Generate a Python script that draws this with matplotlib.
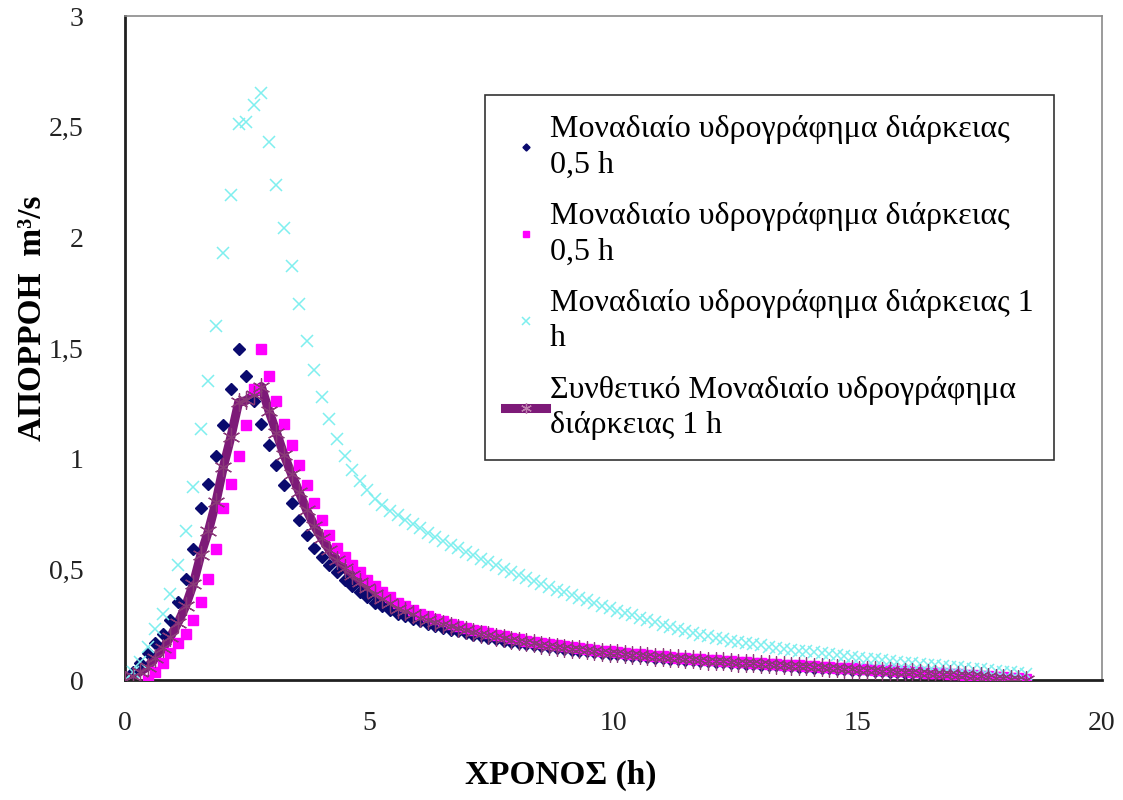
import numpy as np
import matplotlib
matplotlib.use("Agg")
import matplotlib.pyplot as plt

plt.rcParams["font.family"] = ["Liberation Serif", "DejaVu Serif"]

# time step of the hydrograph ordinates (h) and lag of the second 0.5 h curve
dt_h = 0.155
lag_steps = 3

# 0.5 h unit hydrograph ordinates (m3/s), one per time step
q_05 = [0.0, 0.035, 0.075, 0.12, 0.165, 0.21, 0.27, 0.352, 0.456, 0.593,
        0.775, 0.886, 1.01, 1.152, 1.313, 1.497, 1.373, 1.262, 1.155, 1.061,
        0.973, 0.881, 0.798, 0.725, 0.653, 0.596, 0.555, 0.52, 0.487, 0.453,
        0.426, 0.398, 0.376, 0.347, 0.333, 0.315, 0.298, 0.287, 0.276, 0.265,
        0.255, 0.246, 0.237, 0.228, 0.22, 0.212, 0.205, 0.198, 0.191, 0.184,
        0.178, 0.172, 0.167, 0.162, 0.157, 0.152, 0.148, 0.144, 0.14, 0.136,
        0.133, 0.129, 0.126, 0.122, 0.119, 0.116, 0.113, 0.11, 0.107, 0.104,
        0.101, 0.099, 0.096, 0.094, 0.091, 0.089, 0.087, 0.085, 0.082, 0.08,
        0.078, 0.076, 0.074, 0.072, 0.07, 0.068, 0.066, 0.064, 0.062, 0.06,
        0.058, 0.056, 0.054, 0.052, 0.05, 0.048, 0.046, 0.044, 0.043, 0.041,
        0.039, 0.037, 0.035, 0.033, 0.032, 0.03, 0.028, 0.026, 0.024, 0.022,
        0.02, 0.018, 0.015, 0.013, 0.01, 0.008, 0.005]

# 1 h unit hydrograph ordinates (m3/s)
q_1h = [0.0, 0.036, 0.08, 0.15, 0.23, 0.3, 0.39, 0.52, 0.672, 0.87,
        1.135, 1.35, 1.6, 1.93, 2.19, 2.51, 2.52, 2.6, 2.65, 2.43,
        2.235, 2.04, 1.87, 1.7, 1.53, 1.4, 1.28, 1.18, 1.09, 1.01,
        0.95, 0.9, 0.86, 0.82, 0.79, 0.765, 0.745, 0.725, 0.705, 0.685,
        0.665, 0.647, 0.629, 0.612, 0.596, 0.58, 0.564, 0.548, 0.533, 0.518,
        0.503, 0.488, 0.474, 0.46, 0.447, 0.434, 0.421, 0.408, 0.396, 0.384,
        0.372, 0.36, 0.348, 0.336, 0.325, 0.314, 0.303, 0.292, 0.281, 0.27,
        0.26, 0.25, 0.24, 0.231, 0.222, 0.213, 0.205, 0.197, 0.19, 0.183,
        0.176, 0.171, 0.166, 0.161, 0.156, 0.151, 0.146, 0.141, 0.137, 0.133,
        0.129, 0.125, 0.121, 0.117, 0.113, 0.109, 0.105, 0.101, 0.097, 0.093,
        0.089, 0.086, 0.083, 0.079, 0.076, 0.073, 0.069, 0.066, 0.063, 0.06,
        0.057, 0.054, 0.051, 0.048, 0.045, 0.042, 0.038, 0.034, 0.03, 0.026]

# synthetic 1 h unit hydrograph ordinates (m3/s)
q_synth = [0.0, 0.018, 0.038, 0.06, 0.1, 0.143, 0.195, 0.259, 0.333, 0.432,
           0.564, 0.671, 0.802, 0.964, 1.1, 1.254, 1.263, 1.288, 1.326, 1.217,
           1.118, 1.018, 0.93, 0.849, 0.767, 0.697, 0.64, 0.587, 0.542, 0.504,
           0.473, 0.443, 0.415, 0.387, 0.366, 0.346, 0.323, 0.31, 0.296, 0.282,
           0.271, 0.261, 0.251, 0.242, 0.233, 0.225, 0.217, 0.209, 0.202, 0.195,
           0.188, 0.182, 0.176, 0.17, 0.165, 0.16, 0.155, 0.151, 0.146, 0.142,
           0.139, 0.135, 0.131, 0.128, 0.124, 0.121, 0.118, 0.115, 0.112, 0.109,
           0.106, 0.103, 0.1, 0.098, 0.095, 0.093, 0.091, 0.088, 0.086, 0.084,
           0.082, 0.079, 0.077, 0.075, 0.073, 0.071, 0.069, 0.067, 0.065, 0.063,
           0.061, 0.059, 0.057, 0.055, 0.053, 0.051, 0.049, 0.047, 0.045, 0.043,
           0.041, 0.04, 0.038, 0.036, 0.034, 0.032, 0.03, 0.029, 0.027, 0.025,
           0.023, 0.021, 0.018, 0.016, 0.014, 0.011, 0.009, 0.005, 0.004, 0.002]

labels = ["Μοναδιαίο υδρογράφημα διάρκειας\n0,5 h",
          "Μοναδιαίο υδρογράφημα διάρκειας\n0,5 h",
          "Μοναδιαίο υδρογράφημα διάρκειας 1\nh",
          "Συνθετικό Μοναδιαίο υδρογράφημα\nδιάρκειας 1 h"]

x_ticks = [0, 5, 10, 15, 20]
y_ticks = [0, 0.5, 1, 1.5, 2, 2.5, 3]
y_tick_labels = ["0", "0,5", "1", "1,5", "2", "2,5", "3"]

t_05 = np.arange(len(q_05)) * dt_h
t_05_lag = t_05 + lag_steps * dt_h
t_1h = np.arange(len(q_1h)) * dt_h
t_synth = np.arange(len(q_synth)) * dt_h

fig = plt.figure(figsize=(11.23, 8), dpi=100)
ax = fig.add_axes([0.1113, 0.15, 0.87, 0.83])

# Excel draws the lines below all markers
ax.plot(t_synth, q_synth, color="#7d1a78", lw=6.5, solid_capstyle="round",
        zorder=1)
h1, = ax.plot(t_05, q_05, ls="none", marker="D", ms=6, color="#0a0a6e",
              zorder=2, label=labels[0])
h2, = ax.plot(t_05_lag, q_05, ls="none", marker="s", ms=7.5, color="#ff00ff",
              zorder=3, label=labels[1])
h3, = ax.plot(t_1h, q_1h, ls="none", marker="x", ms=9, mew=1.1,
              color="#7fefef", zorder=4, label=labels[2])
ax.plot(t_synth, q_synth, ls="none", marker=(6, 2, 0), ms=13, mew=0.9,
        color="#8a3a78", zorder=5)
h4, = ax.plot([], [], color="#7d1a78", lw=6.5, marker=(6, 2, 0), ms=13,
              mew=0.9, mec="#c080b0", label=labels[3])

ax.set_xlim(0, 20)
ax.set_ylim(0, 3)
ax.set_xticks(x_ticks)
ax.set_yticks(y_ticks)
ax.set_yticklabels(y_tick_labels)
ax.tick_params(length=0, labelsize=20, labelcolor="#222222")
ax.tick_params(axis="x", pad=22)
ax.tick_params(axis="y", pad=30)
for side in ["left", "bottom"]:
    ax.spines[side].set_color("#202020")
    ax.spines[side].set_linewidth(2)
for side in ["top", "right"]:
    ax.spines[side].set_color("#8a8a8a")
    ax.spines[side].set_linewidth(1.2)

fig.text(561 / 1123, 1 - 775 / 800, "ΧΡΟΝΟΣ (h)", fontsize=24,
         fontweight="bold", ha="center", va="center")
fig.text(33 / 1123, 1 - 318 / 800, "ΑΠΟΡΡΟΗ  m³/s", fontsize=24,
         fontweight="bold", rotation=90, ha="center", va="center")

leg = ax.legend(handles=[h1, h2, h3, h4], loc="upper left",
                bbox_to_anchor=(485 / 1123, 1 - 95 / 800),
                bbox_transform=fig.transFigure, fontsize=23, frameon=True,
                fancybox=False, edgecolor="black", handlelength=1.3,
                handletextpad=0.12, labelspacing=0.7, borderpad=0.62,
                borderaxespad=0, markerscale=0.6)
leg.get_frame().set_linewidth(1.2)
for txt in leg.get_texts():
    txt.set_linespacing(1.3)

fig.savefig("out.png", dpi=100)
